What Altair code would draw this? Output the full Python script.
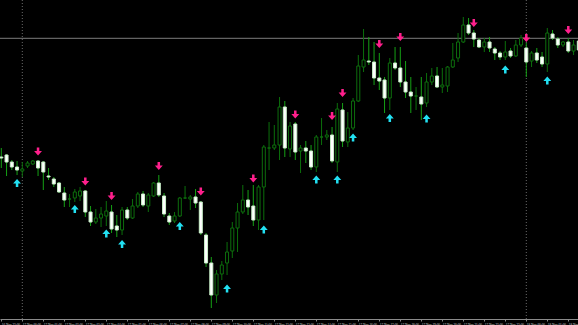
import altair as alt
import pandas as pd

# ---- data (price in points) ----
opens = [173,175,168,163,159,164,166,169,168,154,151,147,137,131,132,134,139,118,108,112,
         114,118,104,100,120,112,124,136,124,134,147,134,114,109,114,132,131,133,128,95,
         67,35,56,67,79,102,118,130,124,110,143,182,182,185,223,181,206,179,182,179,
         163,193,193,195,168,220,188,202,229,263,269,268,252,250,232,267,262,248,238,234,
         233,227,248,254,243,244,263,272,288,305,297,290,283,288,281,277,273,279,274,285,
         282,269,277,273,266,296,291,285,288,279,289]
highs = [182,176,170,169,168,169,170,170,169,162,153,148,143,136,141,143,140,124,121,123,
         129,125,115,123,123,131,138,139,137,148,155,137,117,118,133,144,135,141,129,97,
         73,60,69,88,108,127,145,140,145,145,185,208,205,233,229,208,208,185,189,185,
         195,212,200,203,227,227,218,232,275,301,293,288,277,253,272,283,283,269,253,243,
         253,257,262,263,262,264,287,297,313,312,300,292,292,293,283,279,289,282,290,295,
         287,279,282,278,302,300,293,289,292,290,292]
lows = [162,154,160,155,153,162,165,154,140,150,143,137,123,123,128,129,113,104,106,103,
        104,97,93,95,110,111,122,123,118,133,133,113,105,107,113,131,120,122,95,63,
        22,27,50,55,72,78,116,115,104,100,110,160,180,170,173,173,170,157,167,160,
        158,185,190,167,158,183,183,200,228,258,265,245,240,217,220,260,243,232,217,220,
        210,223,245,242,237,238,262,268,287,295,283,282,278,278,270,270,270,272,273,283,
        253,263,267,263,258,290,282,283,277,275,278]
closes = [172,168,163,160,161,167,169,162,158,153,146,138,130,131,138,139,118,108,112,116,
          119,101,100,120,112,124,136,125,135,147,135,116,108,114,132,132,133,127,97,67,
          35,56,65,78,102,118,130,123,110,143,183,182,185,223,182,204,178,182,179,163,
          193,193,195,169,221,189,202,229,264,270,268,252,249,232,267,262,248,238,234,234,
          226,248,254,243,245,263,270,288,305,297,291,283,288,282,277,273,278,274,285,292,
          268,277,270,266,297,292,285,288,279,285,280]

# arrow signals (bar index, price)
sell_idx = [7, 16, 21, 30, 38, 48, 56, 63, 65, 72, 76, 90, 100, 108]
sell_price = [178.5, 148.5, 134, 164, 138.5, 151.5, 215.5, 214, 237, 286, 293, 307, 292, 300]
buy_idx = [3, 14, 20, 23, 34, 43, 50, 60, 64, 67, 74, 81, 96, 104]
buy_price = [147, 121, 96.5, 86, 104, 41.5, 100.5, 150.5, 150.5, 192.5, 212, 211.5, 260.5, 249.5]

# time labels, one every 4 bars (M15)
time_labels = ["16 Nov 23:00", "17 Nov 00:00", "17 Nov 01:00", "17 Nov 02:00", "17 Nov 03:00",
               "17 Nov 04:00", "17 Nov 05:00", "17 Nov 06:00", "17 Nov 07:00", "17 Nov 08:00",
               "17 Nov 09:00", "17 Nov 10:00", "17 Nov 11:00", "17 Nov 12:00", "17 Nov 13:00",
               "17 Nov 14:00", "17 Nov 15:00", "17 Nov 16:00", "17 Nov 17:00", "17 Nov 18:00",
               "17 Nov 19:00", "17 Nov 20:00", "17 Nov 21:00", "17 Nov 22:00", "17 Nov 23:00",
               "18 Nov 00:00", "18 Nov 01:00", "18 Nov 02:00"]
separator_idx = [4, 100]
hline_price = [291.7]

# ---- frames ----
n = len(opens)
df = pd.DataFrame({"i": list(range(n)), "open": opens, "high": highs, "low": lows, "close": closes})
df["bull"] = df["close"] >= df["open"]
sell_df = pd.DataFrame({"i": sell_idx, "p": sell_price})
buy_df = pd.DataFrame({"i": buy_idx, "p": buy_price})
sep_df = pd.DataFrame({"i": separator_idx})
hl_df = pd.DataFrame({"p": hline_price})

xscale = alt.Scale(domain=[-0.2476, 109.848], nice=False, zero=False, padding=0)
yscale = alt.Scale(domain=[11, 330], nice=False, zero=False, padding=0)

label_expr = "[" + ",".join("'%s'" % s for s in time_labels) + "][round(datum.value/4)]"
xaxis = alt.Axis(values=list(range(0, 4 * len(time_labels), 4)), labelExpr=label_expr,
                 labelFontSize=3.3, labelFont="Liberation Sans Narrow", labelColor="#d8d8d8",
                 labelAlign="left", labelPadding=1, labelFlush=False, labelOverlap=False,
                 labelBound=False, tickSize=2, tickColor="#8a8a8a", domainColor="#8a8a8a",
                 domainWidth=1, grid=False, title=None)
xenc = alt.X("i:Q", scale=xscale, axis=xaxis)

seps = alt.Chart(sep_df).mark_rule(color="#6a6a6a", strokeDash=[1, 2], strokeWidth=1).encode(x=xenc)
hline = alt.Chart(hl_df).mark_rule(color="#7c7c7c", strokeWidth=1).encode(
    y=alt.Y("p:Q", scale=yscale, axis=None))

wicks = alt.Chart(df).mark_rule(strokeWidth=1, clip=True).encode(
    x=xenc,
    y=alt.Y("low:Q", scale=yscale, axis=None),
    y2="high:Q",
    color=alt.condition("datum.bull", alt.value("#0b700b"), alt.value("#14a014")),
)
bodies = alt.Chart(df).mark_bar(size=3, strokeWidth=1, clip=True).encode(
    x=xenc,
    y=alt.Y("open:Q", scale=yscale, axis=None),
    y2="close:Q",
    fill=alt.condition("datum.bull", alt.value("#000000"), alt.value("#ffffff")),
    stroke=alt.condition("datum.bull", alt.value("#0d6e0d"), alt.value("#c8f0c8")),
)

down_path = "M-0.32,-1L0.32,-1L0.32,-0.1L1,-0.1L0,1L-1,-0.1L-0.32,-0.1Z"
up_path = "M-0.32,1L0.32,1L0.32,0.1L1,0.1L0,-1L-1,0.1L-0.32,0.1Z"

sells = alt.Chart(sell_df).mark_point(shape=down_path, filled=True, size=62, opacity=1,
                                      color="#ff1f8c", clip=True).encode(
    x=xenc, y=alt.Y("p:Q", scale=yscale, axis=None))
buys = alt.Chart(buy_df).mark_point(shape=up_path, filled=True, size=62, opacity=1,
                                    color="#22e0f2", clip=True).encode(
    x=xenc, y=alt.Y("p:Q", scale=yscale, axis=None))

chart = alt.layer(seps, hline, wicks, bodies, sells, buys).properties(
    width=578, height=319,
    autosize=alt.AutoSizeParams(type="none"),
    padding={"left": 0, "right": 0, "top": 0, "bottom": 6},
    background="#000000",
).configure_view(strokeWidth=0)

chart.save("out.html", embed_options={"renderer": "svg", "actions": False})
